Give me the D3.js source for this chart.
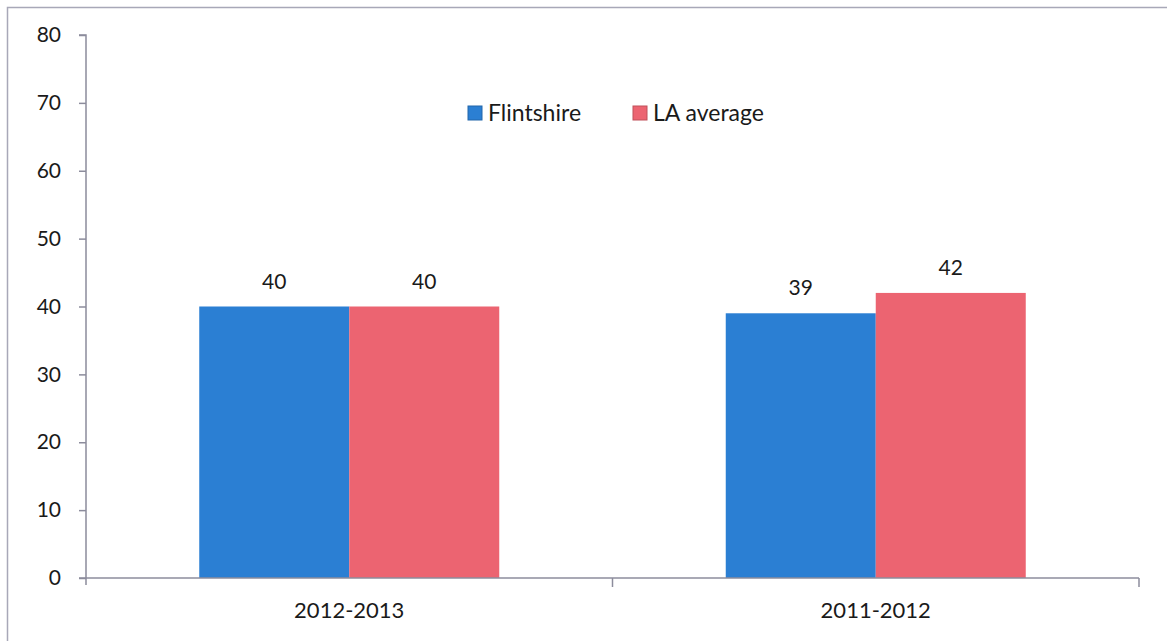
<!DOCTYPE html>
<html>
<head>
<meta charset="utf-8">
<script src="https://cdn.jsdelivr.net/npm/d3@7"></script>
<style>
  html, body { margin: 0; padding: 0; background: #fff; }
  svg { display: block; }
  text { font-family: Lato, "Open Sans", sans-serif; fill: #1a1a1a; }
</style>
</head>
<body>
<svg id="chart" width="1167" height="641"></svg>
<script>
// Chart data
const categories = ["2012-2013", "2011-2012"];
const seriesNames = ["Flintshire", "LA average"];
const flintshire = [40, 39];
const laAverage = [40, 42];
const yTicks = [0, 10, 20, 30, 40, 50, 60, 70, 80];

const colors = { "Flintshire": "#2b7fd3", "LA average": "#ec6471" };
const seriesValues = { "Flintshire": flintshire, "LA average": laAverage };

const svg = d3.select("#chart");
const W = 1167, H = 641;
const plot = { left: 86, right: 1139, top: 35, bottom: 578 };

// Outer frame (left and top edges visible)
svg.append("path")
  .attr("d", `M7.5,${H} L7.5,7.5 L${W},7.5`)
  .attr("fill", "none")
  .attr("stroke", "#a8a8b8")
  .attr("stroke-width", 1.5);

const x0 = d3.scaleBand().domain(categories).range([plot.left, plot.right]);
const x1 = d3.scaleBand().domain(seriesNames).range([0, 300]);
const y = d3.scaleLinear().domain([0, 80]).range([plot.bottom, plot.top]);

// Bars
categories.forEach((cat, i) => {
  const gx = x0(cat) + (x0.bandwidth() - 300) / 2;
  seriesNames.forEach(s => {
    const v = seriesValues[s][i];
    svg.append("rect")
      .attr("x", gx + x1(s))
      .attr("y", y(v))
      .attr("width", x1.bandwidth())
      .attr("height", y(0) - y(v))
      .attr("fill", colors[s]);
    svg.append("text")
      .attr("x", gx + x1(s) + x1.bandwidth() / 2)
      .attr("y", y(v) - 18)
      .attr("text-anchor", "middle")
      .attr("font-size", 21)
      .text(v);
  });
});

const axisColor = "#8c8c9c";

// Y axis
const yAxis = svg.append("g")
  .attr("transform", `translate(${plot.left},0)`)
  .call(d3.axisLeft(y).tickValues(yTicks).tickSize(7).tickPadding(18));
yAxis.select(".domain").attr("stroke", axisColor).attr("stroke-width", 1.5)
  .attr("d", `M-7,${plot.top}H0V${plot.bottom + 7}`);
yAxis.selectAll(".tick line").attr("stroke", axisColor).attr("stroke-width", 1.5);
yAxis.selectAll(".tick text").attr("font-size", 21).attr("font-family", "Lato, sans-serif").attr("fill", "#1a1a1a");

// X axis with tick marks at category boundaries
const xAxisG = svg.append("g").attr("transform", `translate(0,${plot.bottom})`);
xAxisG.append("line")
  .attr("x1", plot.left - 7).attr("x2", plot.right)
  .attr("stroke", axisColor).attr("stroke-width", 1.5);
const boundaries = categories.map(c => x0(c) + x0.bandwidth());
boundaries.forEach(bx => {
  xAxisG.append("line")
    .attr("x1", bx).attr("x2", bx).attr("y1", 0).attr("y2", 9)
    .attr("stroke", axisColor).attr("stroke-width", 1.5);
});
categories.forEach(c => {
  xAxisG.append("text")
    .attr("x", x0(c) + x0.bandwidth() / 2)
    .attr("y", 40)
    .attr("text-anchor", "middle")
    .attr("font-size", 22)
    .text(c);
});

// Legend
const legend = svg.append("g");
const legendItems = [
  { name: "Flintshire", x: 468 },
  { name: "LA average", x: 633 }
];
legendItems.forEach(it => {
  legend.append("rect")
    .attr("x", it.x).attr("y", 106)
    .attr("width", 14).attr("height", 14)
    .attr("fill", colors[it.name])
    .attr("stroke", d3.color(colors[it.name]).darker(0.6))
    .attr("stroke-width", 1);
  legend.append("text")
    .attr("x", it.x + 20).attr("y", 121)
    .attr("font-size", 23)
    .text(it.name);
});
</script>
</body>
</html>
